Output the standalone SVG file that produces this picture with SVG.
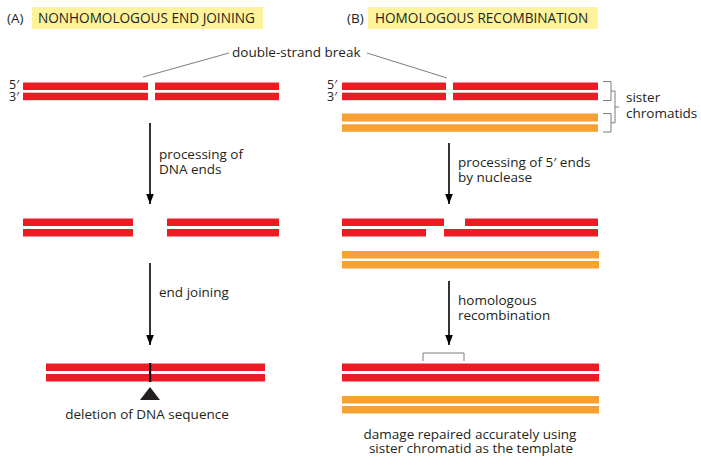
<svg xmlns="http://www.w3.org/2000/svg" width="701" height="468" viewBox="0 0 701 468">
<defs>
<style>
text{font-family:"Open Sans","Noto Sans","Liberation Sans",sans-serif;font-size:13.5px;fill:#231f20}
.hd{font-size:13.6px}
.pr{font-size:12.5px}
.ybox{fill:#fdf39b}
.red{fill:#ed1c24}
.org{fill:#f8a133}
.lead{stroke:#6d6e70;stroke-width:0.9;fill:none}
.arr{stroke:#000;stroke-width:1.6;fill:none;marker-end:url(#ah)}
.mid{text-anchor:middle}
</style>
<marker id="ah" markerUnits="userSpaceOnUse" markerWidth="11" markerHeight="8" refX="10.5" refY="4" orient="auto" viewBox="0 0 11 8">
<path d="M0 0 L10.5 4 L0 8 Z" fill="#000"/>
</marker>
</defs>
<rect width="701" height="468" fill="#fff"/>

<g id="title-a">
<text x="7" y="23">(A)</text>
<rect class="ybox" x="32" y="7" width="231" height="22"/>
<text class="hd" x="38" y="23">NONHOMOLOGOUS END JOINING</text>
</g>
<g id="title-b">
<text x="347" y="23">(B)</text>
<rect class="ybox" x="368" y="7" width="230" height="22"/>
<text class="hd" x="375" y="23">HOMOLOGOUS RECOMBINATION</text>
</g>

<g id="break-label">
<text x="232" y="57">double-strand break</text>
</g>

<g id="dna-a1">
<text class="pr" x="9" y="89">5′<tspan x="9" dy="12">3′</tspan></text>
<rect class="red" x="23" y="82.5" width="125" height="7.5"/>
<rect class="red" x="23" y="92.7" width="125" height="7.5"/>
<rect class="red" x="155" y="82.5" width="124" height="7.5"/>
<rect class="red" x="155" y="92.7" width="124" height="7.5"/>
</g>

<g id="dna-b1">
<text class="pr" x="327" y="89">5′<tspan x="327" dy="12">3′</tspan></text>
<rect class="red" x="342" y="82.5" width="104" height="7.5"/>
<rect class="red" x="342" y="92.7" width="104" height="7.5"/>
<rect class="red" x="453" y="82.5" width="145" height="7.5"/>
<rect class="red" x="453" y="92.7" width="145" height="7.5"/>
<rect class="org" x="342" y="113.5" width="256" height="8"/>
<rect class="org" x="342" y="124.3" width="256" height="7.5"/>
</g>

<g id="sister-label">
<path class="lead" d="M603 81.5 H611 V100.5 H603 M611 91 H615 M603 113.5 H611 V132 H603 M611 122.8 H615 M615 91 V122.8 M615 107 H619"/>
<text x="626" y="102">sister<tspan x="626" dy="16">chromatids</tspan></text>
</g>

<g id="dna-a2">
<rect class="red" x="23" y="218.5" width="110" height="7.5"/>
<rect class="red" x="23" y="229" width="110" height="7.5"/>
<rect class="red" x="167" y="218.5" width="112" height="7.5"/>
<rect class="red" x="167" y="229" width="112" height="7.5"/>
</g>

<g id="dna-b2">
<rect class="red" x="342" y="218.5" width="102" height="7.5"/>
<rect class="red" x="465" y="218.5" width="133" height="7.5"/>
<rect class="red" x="342" y="229" width="84" height="7.5"/>
<rect class="red" x="444" y="229" width="154" height="7.5"/>
<rect class="org" x="342" y="251" width="257" height="7.5"/>
<rect class="org" x="342" y="261" width="257" height="7.5"/>
</g>

<g id="dna-a3">
<rect class="red" x="46" y="363.5" width="219" height="7.5"/>
<rect class="red" x="46" y="374" width="219" height="7.5"/>
<rect x="149" y="363" width="2.2" height="19" fill="#000"/>
<path d="M150 387 L140 400 L160 400 Z" fill="#231f20"/>
<text class="mid" x="147" y="419">deletion of DNA sequence</text>
</g>

<g id="dna-b3">
<path class="lead" d="M423 361 V353 H464 V361"/>
<rect class="red" x="342" y="363.5" width="257" height="7.5"/>
<rect class="red" x="342" y="374" width="257" height="7.5"/>
<rect class="org" x="342" y="396" width="257" height="7.5"/>
<rect class="org" x="342" y="406" width="257" height="7.5"/>
<text class="mid" x="470" y="439">damage repaired accurately using<tspan x="471" dy="14">sister chromatid as the template</tspan></text>
</g>

<g id="step-labels">
<text x="159" y="159">processing of<tspan x="159" dy="15">DNA ends</tspan></text>
<text x="159" y="297">end joining</text>
<text x="458" y="167">processing of 5′ ends<tspan x="458" dy="15">by nuclease</tspan></text>
<text x="458" y="305">homologous<tspan x="458" dy="15">recombination</tspan></text>
</g>

<g id="connectors">
<path class="lead" d="M143 77 L229 53"/>
<path class="lead" d="M367 53 L447 78"/>
<path class="arr" d="M150 123 V204"/>
<path class="arr" d="M150 263 V345"/>
<path class="arr" d="M449 143 V204"/>
<path class="arr" d="M449 281 V345"/>
</g>
</svg>
